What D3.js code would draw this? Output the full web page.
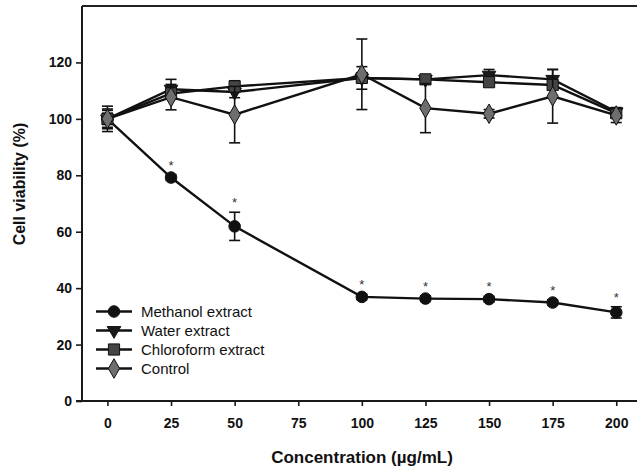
<!DOCTYPE html>
<html>
<head>
<meta charset="utf-8">
<script src="https://cdn.jsdelivr.net/npm/d3@7"></script>
<style>
  html, body { margin: 0; padding: 0; background: #fff; }
  svg { display: block; font-family: "Liberation Sans", Arial, sans-serif; }
</style>
</head>
<body>
<svg id="chart" width="637" height="472"></svg>
<script>
// Concentrations tested (µg/mL)
const concentrations = [0, 25, 50, 100, 125, 150, 175, 200];
const xTicks = [0, 25, 50, 75, 100, 125, 150, 175, 200];
const yTicks = [0, 20, 40, 60, 80, 100, 120];

// Mean cell viability (%) and error (±) per extract
const methanolMean = [100, 79.2, 61.9, 36.9, 36.3, 36.1, 34.9, 31.4];
const methanolErr  = [3.5, 1.0, 5.0, 1.0, 1.0, 1.0, 1.0, 2.0];
const waterMean    = [100, 110.5, 109.5, 114.5, 114.0, 115.5, 114.0, 102.5];
const waterErr     = [4.5, 3.5, 2.0, 4.0, 1.0, 2.0, 3.5, 1.5];
const chloroMean   = [100, 109.0, 111.5, 114.5, 114.0, 113.0, 112.0, 102.0];
const chloroErr    = [3.0, 2.0, 2.0, 1.5, 1.0, 1.5, 1.5, 1.0];
const controlMean  = [100, 107.7, 101.5, 115.8, 103.8, 101.8, 108.0, 101.2];
const controlErr   = [2.0, 4.5, 10.0, 12.5, 8.7, 1.5, 9.5, 2.5];

// Concentrations where methanol extract differs significantly
const significant = [25, 50, 100, 125, 150, 175, 200];

const seriesNames = ["Methanol extract", "Water extract", "Chloroform extract", "Control"];

const series = [
  { name: seriesNames[0], mean: methanolMean, err: methanolErr, symbol: d3.symbolCircle,   size: 105, fill: "#111" },
  { name: seriesNames[1], mean: waterMean,    err: waterErr,    symbol: d3.symbolTriangle, size: 80,  fill: "#1a1a1a", flip: true },
  { name: seriesNames[2], mean: chloroMean,   err: chloroErr,   symbol: d3.symbolSquare,   size: 125, fill: "#454545" },
  { name: seriesNames[3], mean: controlMean,  err: controlErr,  symbol: d3.symbolDiamond,  size: 110, fill: "#6e6e6e" }
];

const svg = d3.select("#chart");
const plotLeft = 82, plotBottom = 401, plotTop = 6;

const x = d3.scaleLinear().domain([-10, 210]).range([plotLeft, 641.7]);
const y = d3.scaleLinear().domain([0, 140]).range([plotBottom, plotTop]);

// Frame: top border
svg.append("line")
  .attr("x1", plotLeft).attr("x2", 637)
  .attr("y1", y(140)).attr("y2", y(140))
  .attr("stroke", "#222").attr("stroke-width", 2);

// Axes
const yAxis = d3.axisLeft(y).tickValues(yTicks).tickSize(6).tickPadding(4).tickFormat(d3.format("d"));
const gy = svg.append("g").attr("transform", `translate(${plotLeft},0)`).call(yAxis);
const xAxis = d3.axisBottom(x).tickValues(xTicks).tickSize(5).tickPadding(12).tickFormat(d3.format("d"));
const gx = svg.append("g").attr("transform", `translate(0,${plotBottom})`).call(xAxis);

[gx, gy].forEach(g => {
  g.select(".domain").attr("stroke", "#1a1a1a").attr("stroke-width", 2);
  g.selectAll(".tick line").attr("stroke", "#1a1a1a").attr("stroke-width", 1.6);
  g.selectAll(".tick text")
    .attr("fill", "#111")
    .style("font-size", "14px")
    .style("font-weight", "bold")
    .style("font-family", "'Liberation Sans', Arial, sans-serif");
});
// Axis lines span the full frame
gy.select(".domain").attr("d", `M0,${plotBottom}V${y(140)}`);
gx.select(".domain").attr("d", `M${plotLeft - 6},0H637`);

// Axis titles
svg.append("text")
  .attr("x", 362).attr("y", 463)
  .attr("text-anchor", "middle")
  .attr("fill", "#111")
  .style("font-size", "17px").style("font-weight", "bold")
  .text("Concentration (µg/mL)");

svg.append("text")
  .attr("transform", `translate(25,${184}) rotate(-90)`)
  .attr("text-anchor", "middle")
  .attr("fill", "#111")
  .style("font-size", "16px").style("font-weight", "bold")
  .text("Cell viability (%)");

const line = d3.line().x((d, i) => x(concentrations[i])).y(d => y(d));

const plot = svg.append("g");

// Lines, error bars and markers for each series
series.forEach(s => {
  const g = plot.append("g");
  g.append("path")
    .attr("d", line(s.mean))
    .attr("fill", "none")
    .attr("stroke", "#111")
    .attr("stroke-width", 2.4);

  const eb = g.selectAll(".eb").data(s.mean).enter().append("g");
  eb.append("line")
    .attr("x1", (d, i) => x(concentrations[i])).attr("x2", (d, i) => x(concentrations[i]))
    .attr("y1", (d, i) => y(d - s.err[i])).attr("y2", (d, i) => y(d + s.err[i]))
    .attr("stroke", "#111").attr("stroke-width", 1.6);
  [-1, 1].forEach(sign => {
    eb.append("line")
      .attr("x1", (d, i) => x(concentrations[i]) - 5.5).attr("x2", (d, i) => x(concentrations[i]) + 5.5)
      .attr("y1", (d, i) => y(d + sign * s.err[i])).attr("y2", (d, i) => y(d + sign * s.err[i]))
      .attr("stroke", "#111").attr("stroke-width", 1.6);
  });

  g.selectAll(".mk").data(s.mean).enter().append("path")
    .attr("d", d3.symbol().type(s.symbol).size(s.size))
    .attr("transform", (d, i) => `translate(${x(concentrations[i])},${y(d)})${s.flip ? " rotate(180)" : ""}`)
    .attr("fill", s.fill)
    .attr("stroke", "#111")
    .attr("stroke-width", 1);
});

// Significance markers above the methanol extract points
svg.selectAll(".star").data(significant).enter().append("text")
  .attr("x", d => x(d))
  .attr("y", d => {
    const i = concentrations.indexOf(d);
    return y(methanolMean[i] + methanolErr[i]) - 12 + 7;
  })
  .attr("text-anchor", "middle")
  .attr("fill", "#333")
  .style("font-size", "13px")
  .text("*");

// Legend
const legend = svg.append("g");
const legendY0 = 311.5, legendStep = 19;
series.forEach((s, i) => {
  const ly = legendY0 + i * legendStep;
  legend.append("line")
    .attr("x1", 96).attr("x2", 132).attr("y1", ly).attr("y2", ly)
    .attr("stroke", "#111").attr("stroke-width", 2.4);
  legend.append("path")
    .attr("d", d3.symbol().type(s.symbol).size(s.size))
    .attr("transform", `translate(114,${ly})${s.flip ? " rotate(180)" : ""}`)
    .attr("fill", s.fill).attr("stroke", "#111").attr("stroke-width", 1);
  legend.append("text")
    .attr("x", 141).attr("y", ly + 5.5)
    .attr("fill", "#111")
    .style("font-size", "15px")
    .text(s.name);
});
</script>
</body>
</html>
